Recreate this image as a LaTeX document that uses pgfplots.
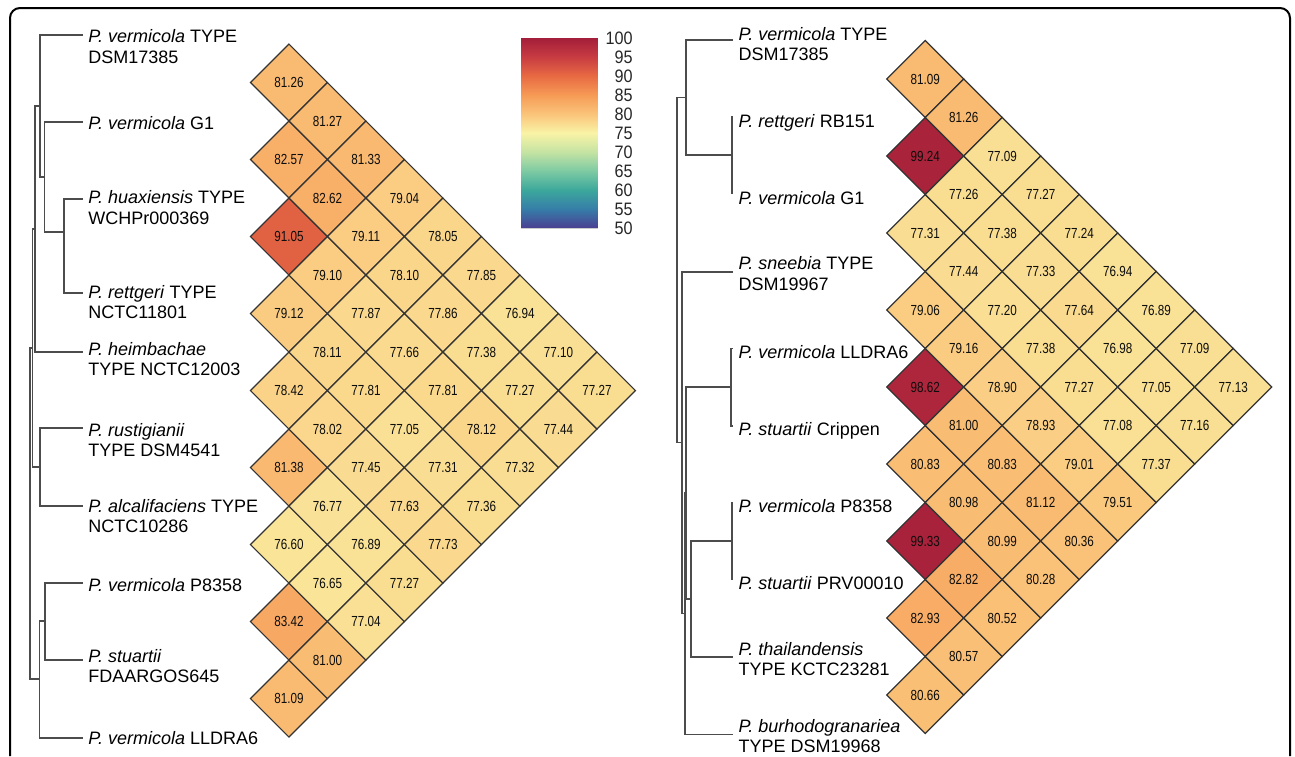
\documentclass[border=0pt]{standalone}
\usepackage{pgfplots}
\pgfplotsset{compat=1.18}
\usepackage{pgfplotstable}
\usepackage{fontspec}
\setmainfont{Liberation Sans}
\newfontfamily\cellfont[FakeStretch=0.8]{Liberation Sans}
\newfontfamily\cbfont[FakeStretch=0.9]{Liberation Sans}

\pgfplotsset{
  colormap={spec}{rgb255=(75,63,146) rgb255=(54,125,168) rgb255=(60,168,156) rgb255=(125,202,163) rgb255=(197,227,163) rgb255=(249,243,166) rgb255=(250,196,122) rgb255=(246,155,86) rgb255=(232,106,67) rgb255=(200,60,66) rgb255=(163,30,58)},
  /pgf/number format/assume math mode=true,
  heatcells/.style={
    scatter, only marks, mark=square*, mark size=13.61pt,
    scatter/use mapped color={draw=black!80, fill=mapped color},
    mark options={rotate=45, line width=0.6pt},
    point meta=\thisrow{v},
  },
  celltext/.style={
    draw=none, mark=none,
    point meta=\thisrow{v},
    nodes near coords={\pgfmathprintnumber[fixed,fixed zerofill,precision=2]{\pgfplotspointmeta}},
    nodes near coords align=center,
    every node near coord/.append style={font=\cellfont\fontsize{7.3}{8}\selectfont, text=black!95, inner sep=0pt, anchor=center},
  },
  tree/.style={draw=black!70, line width=0.8pt},
}

\pgfplotstableread{
i k v
1 1 81.26
2 1 82.57
3 1 91.05
4 1 79.12
5 1 78.42
6 1 81.38
7 1 76.60
8 1 83.42
9 1 81.09
1 2 81.27
2 2 82.62
3 2 79.10
4 2 78.11
5 2 78.02
6 2 76.77
7 2 76.65
8 2 81.00
1 3 81.33
2 3 79.11
3 3 77.87
4 3 77.81
5 3 77.45
6 3 76.89
7 3 77.04
1 4 79.04
2 4 78.10
3 4 77.66
4 4 77.05
5 4 77.63
6 4 77.27
1 5 78.05
2 5 77.86
3 5 77.81
4 5 77.31
5 5 77.73
1 6 77.85
2 6 77.38
3 6 78.12
4 6 77.36
1 7 76.94
2 7 77.27
3 7 77.32
1 8 77.10
2 8 77.44
1 9 77.27
}\leftcells

\pgfplotstableread{
i k v
1 1 81.09
2 1 99.24
3 1 77.31
4 1 79.06
5 1 98.62
6 1 80.83
7 1 99.33
8 1 82.93
9 1 80.66
1 2 81.26
2 2 77.26
3 2 77.44
4 2 79.16
5 2 81.00
6 2 80.98
7 2 82.82
8 2 80.57
1 3 77.09
2 3 77.38
3 3 77.20
4 3 78.90
5 3 80.83
6 3 80.99
7 3 80.52
1 4 77.27
2 4 77.33
3 4 77.38
4 4 78.93
5 4 81.12
6 4 80.28
1 5 77.24
2 5 77.64
3 5 77.27
4 5 79.01
5 5 80.36
1 6 76.94
2 6 76.98
3 6 77.08
4 6 79.51
1 7 76.89
2 7 77.05
3 7 77.37
1 8 77.09
2 8 77.16
1 9 77.13
}\rightcells

\newcommand\lab[3]{\node[anchor=base west, inner sep=0pt, font=\fontsize{9}{11}\selectfont] at (axis cs:#1,#2) {#3};}

\begin{document}
\begin{tikzpicture}
\begin{axis}[x=0.5pt, y=0.5pt, y dir=reverse, xmin=0, xmax=1295, ymin=0, ymax=756,
  scale only axis, hide axis, clip=false, point meta min=50, point meta max=100]
% frame
\draw[line width=1pt, rounded corners=5pt] (axis cs:10,756) -- (axis cs:10,8) -- (axis cs:1290,8) -- (axis cs:1290,756);
% heatmaps
\addplot[heatcells] table[x expr={288.9+38.5*(\thisrow{k}-1)}, y expr={82.5+38.5*(2*\thisrow{i}+\thisrow{k}-3)}] {\leftcells};
\addplot[heatcells] table[x expr={925.3+38.5*(\thisrow{k}-1)}, y expr={79+38.5*(2*\thisrow{i}+\thisrow{k}-3)}] {\rightcells};
\addplot[celltext] table[x expr={288.9+38.5*(\thisrow{k}-1)}, y expr={82.5+38.5*(2*\thisrow{i}+\thisrow{k}-3)}] {\leftcells};
\addplot[celltext] table[x expr={925.3+38.5*(\thisrow{k}-1)}, y expr={79+38.5*(2*\thisrow{i}+\thisrow{k}-3)}] {\rightcells};
% left dendrogram
\addplot[tree] coordinates {(83,199) (64,199) (64,293) (83,293)};
\addplot[tree] coordinates {(83,121.7) (44.3,121.7) (44.3,232) (64,232)};
\addplot[tree] coordinates {(83,35) (40,35) (40,177) (44.3,177)};
\addplot[tree] coordinates {(40,106) (35,106) (35,351.7) (83,351.7)};
\addplot[tree] coordinates {(83,427.7) (40,427.7) (40,506) (83,506)};
\addplot[tree] coordinates {(35,229) (32.3,229) (32.3,466.8) (40,466.8)};
\addplot[tree] coordinates {(83,582.7) (45,582.7) (45,660) (83,660)};
\addplot[tree] coordinates {(45,621) (39.3,621) (39.3,737.7) (83,737.7)};
\addplot[tree] coordinates {(32.3,348) (30,348) (30,679) (39.3,679)};
% right dendrogram
\addplot[tree] coordinates {(732.7,116.7) (731.7,116.7) (731.7,193.3) (732.7,193.3)};
\addplot[tree] coordinates {(732.7,40) (686,40) (686,155) (731.7,155)};
\addplot[tree] coordinates {(732.7,348.3) (731,348.3) (731,426) (732.7,426)};
\addplot[tree] coordinates {(732.7,502.7) (731.7,502.7) (731.7,578.7) (732.7,578.7)};
\addplot[tree] coordinates {(731.7,540.7) (691,540.7) (691,657) (732.7,657)};
\addplot[tree] coordinates {(731,387) (686,387) (686,598.8) (691,598.8)};
\addplot[tree] coordinates {(686,492.9) (685,492.9) (685,734.3) (732.7,734.3)};
\addplot[tree] coordinates {(732.7,271.7) (681.7,271.7) (681.7,613.6) (685,613.6)};
\addplot[tree] coordinates {(686,97.5) (676.7,97.5) (676.7,442.6) (681.7,442.6)};
% left labels
\lab{88}{42.7}{\textit{P. vermicola} TYPE}
\lab{88}{63.3}{DSM17385}
\lab{88}{129.3}{\textit{P. vermicola} G1}
\lab{88}{203.3}{\textit{P. huaxiensis} TYPE}
\lab{88}{224}{WCHPr000369}
\lab{88}{298.3}{\textit{P. rettgeri} TYPE}
\lab{88}{318.3}{NCTC11801}
\lab{88}{355}{\textit{P. heimbachae}}
\lab{88}{375}{TYPE NCTC12003}
\lab{88}{436}{\textit{P. rustigianii}}
\lab{88}{456}{TYPE DSM4541}
\lab{88}{512.7}{\textit{P. alcalifaciens} TYPE}
\lab{88}{532.7}{NCTC10286}
\lab{88}{591}{\textit{P. vermicola} P8358}
\lab{88}{662}{\textit{P. stuartii}}
\lab{88}{682.7}{FDAARGOS645}
\lab{88}{744.3}{\textit{P. vermicola} LLDRA6}
% right labels
\lab{738.3}{40}{\textit{P. vermicola} TYPE}
\lab{738.3}{60}{DSM17385}
\lab{738.3}{127.3}{\textit{P. rettgeri} RB151}
\lab{738.3}{204}{\textit{P. vermicola} G1}
\lab{738.3}{269.3}{\textit{P. sneebia} TYPE}
\lab{738.3}{290}{DSM19967}
\lab{738.3}{358.3}{\textit{P. vermicola} LLDRA6}
\lab{738.3}{435.3}{\textit{P. stuartii} Crippen}
\lab{738.3}{512}{\textit{P. vermicola} P8358}
\lab{738.3}{589.3}{\textit{P. stuartii} PRV00010}
\lab{738.3}{655.3}{\textit{P. thailandensis}}
\lab{738.3}{675.3}{TYPE KCTC23281}
\lab{738.3}{732}{\textit{P. burhodogranariea}}
\lab{738.3}{752.7}{TYPE DSM19968}
\end{axis}
% colour bar
\begin{axis}[at={(260.5pt,264pt)}, anchor=south west, scale only axis, width=38pt, height=95pt,
  xmin=0, xmax=1, ymin=50, ymax=100, xtick=\empty, ytick={50,55,...,100},
  yticklabel pos=right, major tick length=0pt,
  axis line style={draw=black!20, line width=0.3pt},
  yticklabel style={font=\cbfont\fontsize{9}{10}\selectfont, text=black!85, anchor=east, xshift=18pt, inner sep=0pt},
  point meta min=50, point meta max=100]
\addplot[surf, shader=interp, point meta=y, mesh/rows=2] coordinates {(0,50) (1,50) (0,100) (1,100)};
\end{axis}
\pgfresetboundingbox
\useasboundingbox (0,0) rectangle (647.5pt,378pt);
\end{tikzpicture}
\end{document}
